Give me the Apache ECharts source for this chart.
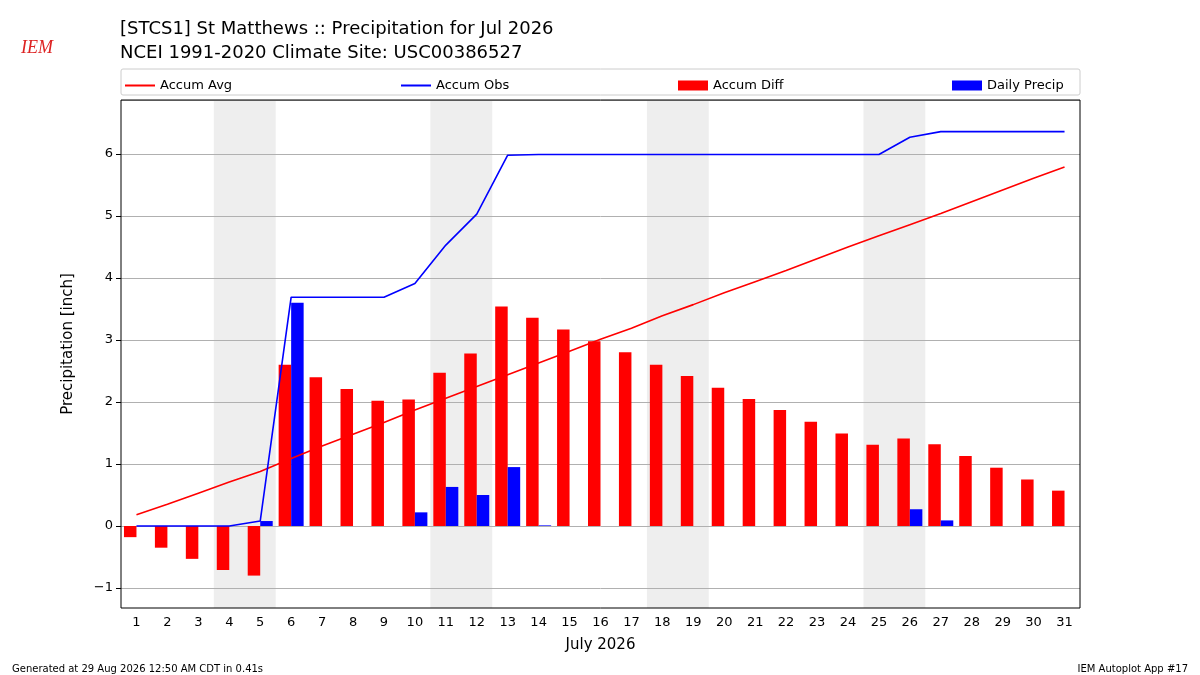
<!DOCTYPE html>
<html><head><meta charset="utf-8">
<script src="https://cdn.jsdelivr.net/npm/echarts@6/dist/echarts.min.js"></script>
<style>html,body{margin:0;padding:0;background:#fff}#c{width:1200px;height:675px}</style>
</head><body><div id="c"></div>
<script>
const days = Array.from({length:31},(_,i)=>String(i+1));
const accumAvg = [0.18,0.35,0.53,0.71,0.88,1.09,1.29,1.48,1.67,1.87,2.06,2.25,2.44,2.63,2.82,3.01,3.19,3.39,3.57,3.76,3.94,4.12,4.31,4.50,4.68,4.86,5.04,5.23,5.42,5.61,5.79];
const accumObs = [0,0,0,0,0.08,3.69,3.69,3.69,3.69,3.91,4.53,5.03,5.98,5.99,5.99,5.99,5.99,5.99,5.99,5.99,5.99,5.99,5.99,5.99,5.99,6.27,6.36,6.36,6.36,6.36,6.36];
const accumDiff = [-0.18,-0.35,-0.53,-0.71,-0.80,2.60,2.40,2.21,2.02,2.04,2.47,2.78,3.54,3.36,3.17,2.98,2.80,2.60,2.42,2.23,2.05,1.87,1.68,1.49,1.31,1.41,1.32,1.13,0.94,0.75,0.57];
const dailyPrecip = [0,0,0,0,0.08,3.60,0,0,0,0.22,0.63,0.50,0.95,0.01,0,0,0,0,0,0,0,0,0,0,0,0.27,0.09,0,0,0,0];
const weekends = [[3.5,5.5],[10.5,12.5],[17.5,19.5],[24.5,26.5]];

const font = 'DejaVu Sans';
const chart = echarts.init(document.getElementById('c'));
const legendBase = {top:74, itemWidth:30, textStyle:{fontFamily:font,fontSize:13,color:'#000'}};
const PT=100, PB=608; // plot frame
chart.setOption({
  animation:false,
  textStyle:{fontFamily:font},
  title:[
    {text:'[STCS1] St Matthews :: Precipitation for Jul 2026\nNCEI 1991-2020 Climate Site: USC00386527', left:115, top:12,
     textStyle:{fontFamily:font,fontSize:18,fontWeight:'normal',color:'#000',lineHeight:24}},
    {text:'Generated at 29 Aug 2026 12:50 AM CDT in 0.41s', left:7, top:659, textStyle:{fontFamily:font,fontSize:10,fontWeight:'normal',color:'#000'}},
    {text:'IEM Autoplot App #17', right:7, top:659, textStyle:{fontFamily:font,fontSize:10,fontWeight:'normal',color:'#000'}},
    {text:'IEM', left:16, top:34, textStyle:{fontFamily:'Liberation Serif',fontSize:18,fontWeight:'normal',fontStyle:'italic',color:'#d22'}}
  ],
  legend:[
    Object.assign({left:120, itemHeight:2, data:[{name:'Accum Avg',icon:'rect'}]},legendBase),
    Object.assign({left:396, itemHeight:2, data:[{name:'Accum Obs',icon:'rect'}]},legendBase),
    Object.assign({left:673, itemHeight:10, data:[{name:'Accum Diff',icon:'rect'}]},legendBase),
    Object.assign({left:947, itemHeight:10, data:[{name:'Daily Precip',icon:'rect'}]},legendBase)
  ],
  grid:{left:121,right:120,top:100,bottom:87},
  xAxis:[
    {type:'category', data:days, boundaryGap:true, name:'July 2026', nameLocation:'middle', nameGap:30,
     offset:20, nameTextStyle:{fontFamily:font,fontSize:15,color:'#000'},
     axisLine:{show:false,onZero:false}, axisTick:{alignWithLabel:true,lineStyle:{color:'#000'}},
     axisLabel:{fontFamily:font,fontSize:13,color:'#000',interval:0}},
    {type:'value', min:0.5, max:31.5, show:false}
  ],
  yAxis:{type:'value', min:-1, max:6.87, interval:1, name:'Precipitation [inch]', nameLocation:'middle', nameGap:45,
     nameTextStyle:{fontFamily:font,fontSize:15,color:'#000'},
     axisLine:{show:false}, axisTick:{show:true,lineStyle:{color:'#000'}},
     axisLabel:{fontFamily:font,fontSize:13,color:'#000',showMaxLabel:false,
       formatter:v=>Number.isInteger(Math.round(v*1000)/1000)?(v<0?'\u2212'+Math.abs(v):String(v)):''},
     splitLine:{show:true,lineStyle:{color:'#b0b0b0'}}},
  series:[
    {name:'Accum Diff', type:'bar', data:accumDiff, barWidth:12.5, barGap:'0%', itemStyle:{color:'#ff0000'}},
    {name:'Daily Precip', type:'bar', data:dailyPrecip, barWidth:12.5, barGap:'0%', itemStyle:{color:'#0000ff'}},
    {name:'Accum Avg', type:'line', data:accumAvg, symbol:'none', lineStyle:{color:'#ff0000',width:1.6}, itemStyle:{color:'#ff0000'}},
    {name:'Accum Obs', type:'line', data:accumObs, symbol:'none', lineStyle:{color:'#0000ff',width:1.6}, itemStyle:{color:'#0000ff'}}
  ]
});
const g = [
  {type:'rect', shape:{x:121,y:69,width:959,height:26,r:2}, style:{fill:'none',stroke:'#ccc',lineWidth:1}},
  {type:'rect', z:100, shape:{x:121,y:PT,width:959,height:PB-PT}, style:{fill:'none',stroke:'#000',lineWidth:1}}
];
weekends.forEach(w=>{
  const x0 = chart.convertToPixel({xAxisIndex:1}, w[0]);
  const x1 = chart.convertToPixel({xAxisIndex:1}, w[1]);
  g.push({type:'rect', z:-10, silent:true, shape:{x:x0,y:PT,width:x1-x0,height:PB-PT}, style:{fill:'#eeeeee'}});
});
chart.setOption({graphic:g});
</script></body></html>
